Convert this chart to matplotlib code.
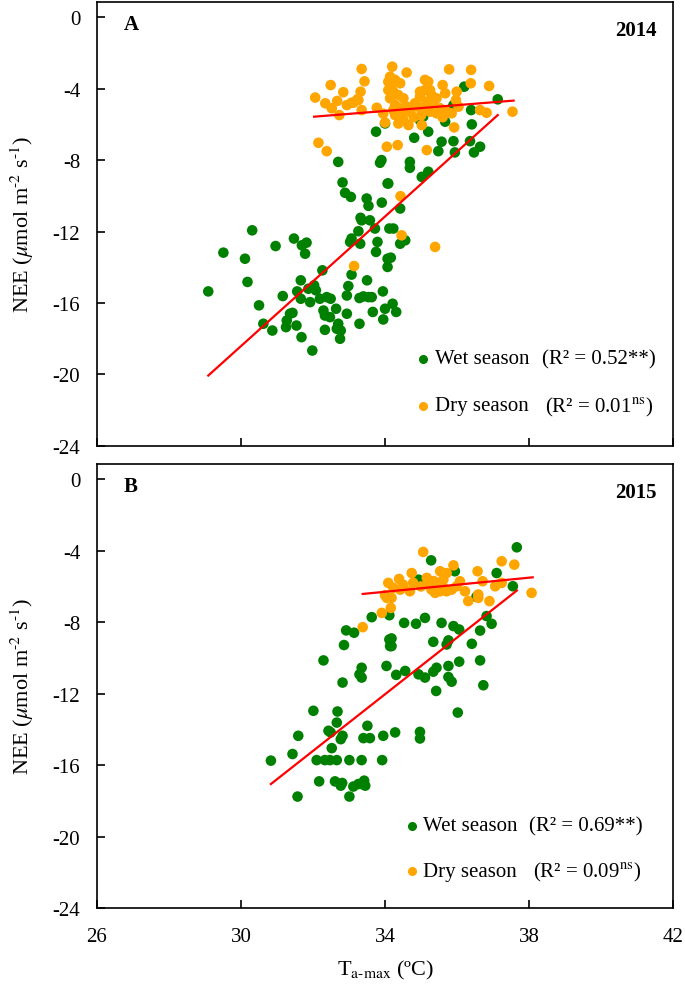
import numpy as np
import matplotlib
matplotlib.use("Agg")
import matplotlib.pyplot as plt

plt.rcParams['font.family'] = ['Liberation Serif', 'DejaVu Serif']
plt.rcParams['mathtext.fontset'] = 'stix'
plt.rcParams['axes.unicode_minus'] = False

# ---- 2014 (panel A) ----
wet14 = [
    (33.75, -6.41), (34.0, -5.95), (32.7, -8.1), (33.86, -8.15), (33.9, -8.0), (32.82, -9.25),
    (32.89, -9.83), (33.05, -10.06), (33.49, -10.15), (33.54, -10.56), (33.91, -10.38), (34.07, -9.31),
    (33.32, -11.23), (33.35, -11.37), (33.58, -11.37), (33.72, -11.83), (33.26, -11.98), (33.07, -12.39),
    (33.03, -12.58), (33.79, -12.58), (33.31, -12.68), (30.31, -11.93), (30.96, -12.81), (31.47, -12.39),
    (31.82, -12.62), (31.69, -12.77), (29.51, -13.18), (30.11, -13.52), (31.78, -13.24), (30.18, -14.82),
    (29.09, -15.35), (30.5, -16.13), (31.16, -15.61), (30.62, -17.16), (30.87, -17.54), (31.66, -14.73),
    (31.56, -15.35), (31.87, -15.2), (32.03, -15.01), (32.08, -15.29), (32.26, -14.17), (31.66, -15.76),
    (31.92, -15.95), (32.19, -15.76), (32.38, -15.67), (32.49, -15.76), (31.36, -16.6), (31.43, -16.55),
    (31.27, -16.98), (31.25, -17.35), (31.54, -17.26), (31.68, -17.91), (31.98, -18.66), (32.29, -16.42),
    (32.33, -16.7), (32.47, -16.79), (32.64, -16.32), (32.7, -17.16), (32.66, -17.44), (32.77, -17.54),
    (32.75, -18.0), (32.94, -16.6), (32.33, -17.5), (33.07, -14.41), (32.98, -15.05), (32.94, -15.58),
    (33.29, -15.72), (33.4, -15.63), (33.54, -15.67), (33.63, -15.67), (33.5, -14.73), (33.29, -17.16),
    (33.66, -16.5), (33.94, -15.35), (33.95, -16.92), (34.0, -16.32), (33.75, -13.14), (34.07, -13.52),
    (34.07, -13.98), (34.12, -11.83), (36.2, -3.89), (37.13, -4.6), (36.39, -5.2), (36.41, -6.0),
    (35.9, -4.92), (35.76, -5.2), (35.67, -5.85), (35.2, -6.41), (34.97, -5.76), (35.06, -5.57),
    (34.81, -6.75), (35.57, -6.97), (35.9, -6.94), (35.48, -7.5), (35.94, -7.57), (36.36, -6.94),
    (36.47, -7.57), (36.64, -7.25), (34.69, -8.1), (34.69, -8.43), (35.2, -8.65), (35.02, -8.94),
    (34.09, -9.31), (34.42, -10.71), (34.23, -11.83), (34.56, -12.49), (34.42, -12.68), (34.16, -13.46),
    (34.21, -16.04), (34.31, -16.5),
]
dry14 = [
    (33.35, -2.9), (32.49, -3.8), (33.43, -3.59), (32.84, -4.2), (32.06, -4.5), (32.34, -4.82),
    (32.67, -4.69), (32.52, -5.1), (32.73, -5.48), (33.07, -4.79), (33.23, -4.6), (33.32, -4.17),
    (33.35, -5.2), (33.77, -5.07), (32.15, -7.03), (32.38, -7.5), (34.05, -7.25), (34.2, -2.77),
    (34.6, -3.1), (35.78, -2.92), (36.39, -2.95), (32.94, -4.92), (33.12, -4.79), (33.26, -4.64),
    (34.14, -3.33), (34.09, -3.61), (34.18, -3.8), (34.28, -3.51), (34.42, -3.7), (34.09, -4.08),
    (34.23, -4.17), (34.37, -4.36), (34.51, -4.54), (34.14, -4.54), (34.28, -4.92), (34.42, -5.1),
    (34.28, -5.48), (34.42, -5.57), (34.51, -5.76), (34.65, -6.04), (34.37, -5.95), (34.23, -5.2),
    (34.51, -5.38), (35.11, -3.51), (35.2, -3.61), (34.97, -4.17), (35.11, -4.08), (35.25, -4.08),
    (35.29, -4.36), (35.43, -4.54), (35.34, -4.73), (35.16, -4.73), (34.97, -4.45), (34.83, -4.82),
    (34.92, -5.01), (35.06, -5.2), (35.25, -5.29), (35.43, -5.38), (35.53, -5.1), (35.71, -5.29),
    (35.85, -5.38), (35.02, -6.04), (35.6, -3.8), (35.67, -4.26), (35.99, -4.17), (35.97, -4.64),
    (36.04, -5.01), (35.92, -6.17), (36.38, -3.7), (36.89, -3.85), (36.64, -5.2), (36.82, -5.35),
    (37.54, -5.29), (34.35, -7.16), (35.16, -7.44), (34.43, -10.02), (34.46, -12.21), (35.39, -12.86),
    (33.14, -13.93), (34.6, -5.0), (34.7, -5.3), (34.0, -5.9), (33.95, -5.4), (34.8, -5.6),
    (35.0, -5.5), (35.6, -5.6),
]
fit14_wet_x, fit14_wet_y = [29.09, 37.13], [-20.06, -5.48]
fit14_dry_x, fit14_dry_y = [32.03, 37.57], [-5.57, -4.67]

# ---- 2015 (panel B) ----
wet15 = [
    (33.63, -7.72), (32.92, -8.46), (33.14, -8.59), (32.86, -9.28), (32.29, -10.14), (33.35, -10.55),
    (33.29, -10.92), (33.35, -11.1), (34.04, -10.45), (34.12, -8.97), (34.14, -9.34), (32.82, -11.38),
    (32.01, -12.96), (32.68, -13.0), (32.66, -13.62), (32.43, -14.08), (32.49, -14.17), (32.82, -14.36),
    (32.77, -14.55), (33.51, -13.8), (33.4, -14.49), (33.58, -14.49), (33.95, -14.36), (31.59, -14.36),
    (31.43, -15.38), (30.83, -15.75), (32.1, -15.72), (32.33, -15.72), (32.47, -15.72), (32.66, -15.72),
    (32.52, -15.05), (33.01, -15.72), (33.35, -15.72), (33.92, -15.72), (32.17, -16.91), (32.61, -16.91),
    (32.81, -17.0), (32.77, -17.15), (33.12, -17.2), (33.26, -17.06), (33.42, -16.87), (33.45, -17.15),
    (33.35, -17.06), (31.57, -17.76), (33.01, -17.76), (37.66, -3.81), (35.28, -4.54), (35.94, -5.15),
    (37.1, -5.25), (37.55, -5.99), (34.93, -5.62), (34.12, -7.61), (34.53, -8.04), (34.86, -8.09),
    (35.11, -7.76), (35.57, -8.04), (35.9, -8.22), (36.06, -8.41), (36.82, -7.66), (36.96, -8.09),
    (36.64, -8.47), (34.18, -8.91), (34.18, -9.34), (35.34, -9.1), (35.71, -9.25), (35.76, -9.02),
    (36.41, -9.21), (34.31, -10.95), (34.56, -10.73), (34.93, -10.92), (35.11, -11.1), (35.34, -10.77),
    (35.43, -10.55), (35.76, -10.45), (35.76, -11.07), (35.85, -11.33), (36.06, -10.21), (36.64, -10.14),
    (35.42, -11.85), (36.73, -11.53), (36.02, -13.06), (34.28, -14.17), (34.97, -14.14), (34.97, -14.51),
    (36.54, -6.58),
]
dry15 = [
    (34.09, -5.8), (34.0, -6.49), (33.91, -7.48), (33.38, -8.28), (35.06, -4.07), (37.24, -4.59),
    (37.59, -4.78), (36.57, -5.15), (35.9, -4.82), (35.53, -5.15), (35.71, -5.25), (35.62, -5.62),
    (35.48, -5.8), (34.74, -5.25), (34.39, -5.58), (34.23, -6.08), (34.42, -6.18), (34.69, -6.27),
    (35.16, -5.52), (35.2, -5.9), (35.29, -6.18), (35.39, -6.36), (35.53, -6.27), (35.71, -6.27),
    (35.85, -6.18), (35.99, -5.99), (36.08, -5.71), (36.22, -6.27), (36.31, -6.82), (36.59, -6.45),
    (36.59, -6.64), (36.9, -6.82), (37.06, -5.99), (37.24, -5.8), (36.71, -5.71), (38.07, -6.36),
    (34.05, -6.64), (34.16, -7.2), (34.78, -5.8), (34.18, -6.64), (35.0, -6.0), (35.35, -5.7),
    (35.6, -6.0), (34.5, -5.9),
]
fit15_wet_x, fit15_wet_y = [30.83, 37.66], [-17.06, -6.23]
fit15_dry_x, fit15_dry_y = [33.38, 38.1], [-6.42, -5.49]

panels = [
    ("A", "2014", wet14, dry14, (fit14_wet_x, fit14_wet_y), (fit14_dry_x, fit14_dry_y),
     "(R² = 0.52**)", r"(R² = 0.01$^{\rm ns}$)"),
    ("B", "2015", wet15, dry15, (fit15_wet_x, fit15_wet_y), (fit15_dry_x, fit15_dry_y),
     "(R² = 0.69**)", r"(R² = 0.09$^{\rm ns}$)"),
]

green = '#008000'
orange = '#FFA500'

fig = plt.figure(figsize=(6.85, 9.95), dpi=100)
ax_top = fig.add_axes([0.1416, 0.5508, 0.841, 0.4462])
ax_bot = fig.add_axes([0.1416, 0.0864, 0.841, 0.4462])

for ax, (lab, year, wet, dry, fw, fd, r2w, r2d) in zip([ax_top, ax_bot], panels):
    wet = np.array(wet)
    dry = np.array(dry)
    ax.scatter(wet[:, 0], wet[:, 1], s=58, color=green, edgecolors='none', zorder=2)
    ax.scatter(dry[:, 0], dry[:, 1], s=58, color=orange, edgecolors='none', zorder=3)
    ax.plot(fw[0], fw[1], color='red', lw=1.6, zorder=4)
    ax.plot(fd[0], fd[1], color='red', lw=1.6, zorder=4)
    ax.set_xlim(26, 42)
    ax.set_ylim(-24, 0.85)
    ax.set_xticks([26, 30, 34, 38, 42])
    ax.set_yticks([0, -4, -8, -12, -16, -20, -24])
    ax.tick_params(direction='in', length=6, width=1.2, labelsize=15)
    ax.tick_params(axis='y', pad=12)
    ax.tick_params(axis='x', pad=14)
    for sp in ax.spines.values():
        sp.set_linewidth(1.2)
    ax.set_ylabel(r'NEE ($\mu$mol m$^{\text{-}2}$ s$^{\text{-}1}$)', fontsize=16, labelpad=12)
    ax.text(0.046, 0.950, lab, transform=ax.transAxes, fontsize=15, fontweight='bold',
            ha='left', va='center')
    ax.text(0.972, 0.937, year, transform=ax.transAxes, fontsize=15, fontweight='bold',
            ha='right', va='center')

# legends written as text, positions per panel
leg = [(ax_top, 0.566, 0.196, 0.090, 0.587, 0.773, 0.778),
       (ax_bot, 0.547, 0.185, 0.083, 0.566, 0.750, 0.757)]
for (ax, dx, yw, yd, tx, rw, rd), p in zip(leg, panels):
    ax.plot([dx], [yw], 'o', ms=5.5, color=green, transform=ax.transAxes, clip_on=False)
    ax.plot([dx], [yd], 'o', ms=5.5, color=orange, transform=ax.transAxes, clip_on=False)
    ax.text(tx, yw, 'Wet season', transform=ax.transAxes, fontsize=15, va='center')
    ax.text(tx, yd, 'Dry season', transform=ax.transAxes, fontsize=15, va='center')
    ax.text(rw, yw, p[6], transform=ax.transAxes, fontsize=15, va='center')
    ax.text(rd, yd, p[7], transform=ax.transAxes, fontsize=15, va='center')

ax_top.tick_params(labelbottom=False)
ax_bot.set_xlabel(r'T$_{\rm a\text{-}max}$ (ºC)', fontsize=16, labelpad=8)

fig.savefig('out.png', dpi=100)
